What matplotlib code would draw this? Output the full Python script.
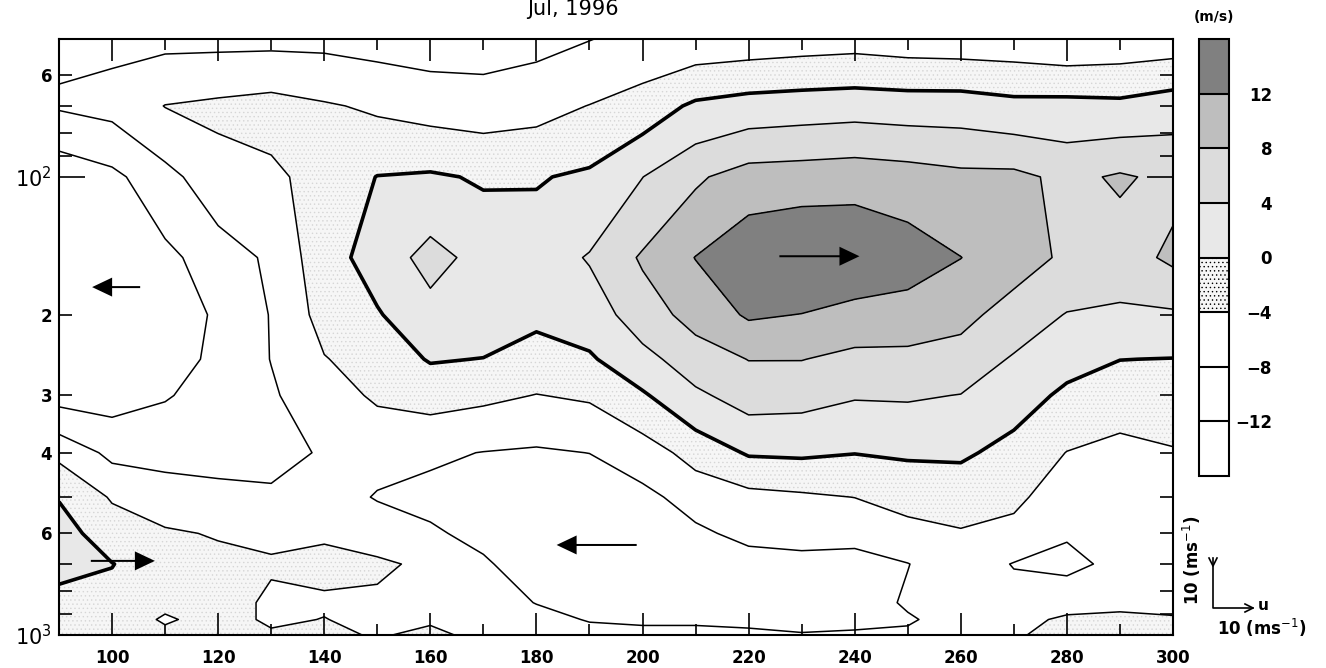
import matplotlib
matplotlib.use('Agg')
import matplotlib.pyplot as plt
import numpy as np
from matplotlib.lines import Line2D

# zonal wind section, Jul 1996 (m/s)
lons = [90, 100, 110, 120, 130, 140, 150, 160, 170, 180, 190,
        200, 210, 220, 230, 240, 250, 260, 270, 280, 290, 300]
plev = [50, 70, 100, 150, 200, 250, 300, 400, 500, 600, 700, 850, 925, 1000]

u_50 = [-8.7, -8.8, -9, -9, -9, -9, -9.5, -10, -10, -9.2, -8.1,
        -7, -6.5, -6.2, -5.8, -5.5, -6, -6.2, -6.3, -7, -6.5, -6.2]
u_70 = [-7.6, -6.8, -3.9, -3.2, -2.5, -3.6, -4.6, -5.5, -5.9, -5.3, -3.9,
        -2.2, 0.7, 1.7, 2.1, 2.4, 2.1, 2.1, 1.2, 1.3, 1.0, 2.3]
u_100 = [-15, -13, -9.3, -5.5, -4.8, -2.5, 0.1, 0.5, -0.4, -0.3, 0.7,
         3.95, 7.4, 9.8, 10.1, 10.5, 9.9, 9, 9, 7, 8.5, 7]
u_150 = [-16, -15, -13, -10, -7.3, -1.5, 1.5, 5.5, 2.5, 2, 4.3,
         8.5, 12.1, 15, 16, 15.5, 14, 12.05, 9.8, 7.3, 6.2, 8.8]
u_200 = [-16, -15, -14, -11.5, -7.8, -2.5, -0.3, 2.5, 2.5, 1, 2,
         6, 9.5, 12.5, 11.9, 10.5, 10.2, 9.2, 6.3, 3.8, 3.3, 3.4]
u_250 = [-15, -14.5, -14, -11, -7.9, -4.2, -2.2, 0.3, -0.1, -1.8, -0.5,
         2.8, 6, 8.1, 8.1, 7, 7, 6.3, 3.6, 1.2, 0.05, -0.1]
u_300 = [-13.5, -13.6, -12.3, -10.5, -8.5, -5.5, -3.5, -2.5, -3.2, -4.1, -3.5,
         -0.5, 3.3, 5.6, 5.3, 4.3, 4.4, 3.9, 1.6, -0.7, -2, -1.8]
u_400 = [-5, -9, -9.2, -9, -9, -7.7, -6.5, -7.4, -8.1, -8.5, -7.95,
         -6, -2.5, 0.4, 0.6, 0.1, 0.5, 0.6, -1.2, -4.1, -5.2, -4.3]
u_500 = [-0.2, -4.4, -6.3, -7.2, -7.5, -6, -8.3, -9, -10, -10.5, -11,
         -9, -6.5, -5.2, -4.6, -3.95, -2.6, -2.3, -3.4, -5.5, -6.5, -6]
u_600 = [1.5, -1.9, -3.5, -4.3, -5, -4.5, -5.5, -7.5, -9, -10.5, -11,
         -11, -8.7, -7, -6.8, -7.1, -5.3, -4.3, -4.8, -7.7, -7, -6.5]
u_700 = [0.8, 0.1, -2, -3, -3.5, -3, -3.5, -4.6, -7.5, -10, -11,
         -11.5, -10, -9.5, -9, -9, -8.1, -5.7, -8.2, -8.8, -7.2, -6.2]
u_850 = [-0.8, -1.0, -3, -2, -4.8, -4.5, -4.5, -5.5, -6.5, -8.1, -9.3,
         -10, -9.5, -9.8, -10, -10, -7.5, -6.5, -6.5, -6, -4.8, -4.6]
u_925 = [-1.5, -1.5, -4.5, -2.5, -4.6, -3.9, -5, -4.3, -6, -7, -8.2,
         -8.3, -8.3, -8.6, -9, -9, -8.4, -6.5, -5.5, -3.2, -3.3, -3.8]
u_1000 = [-1.5, -1.8, -3, -2.5, -3.5, -3.5, -4.2, -3.5, -4.6, -6.5, -7,
          -7.5, -7.5, -7.5, -7.8, -7.5, -7.4, -6, -4.5, -2.5, -2.5, -3]

bounds = [-40, -12, -8, -4, 0, 4, 8, 12, 40]
fill_colors = ['white', 'white', 'white', '#f6f6f6', '#e8e8e8', '#dcdcdc', '#bebebe', '#808080']
fill_hatches = [None, None, None, '....', None, None, None, None]
cbar_labels = ['\u221212', '\u22128', '\u22124', '0', '4', '8', '12']

# wind vectors (tail position, u in m/s)
vec_lon = [105.3, 225.8, 198.9, 96.0]
vec_p = [174, 149, 636, 689]
vec_u = [-12, 20, -20, 16]
vec_v = [0, 0, 0, 0]

plt.rcParams['font.family'] = 'DejaVu Sans'
plt.rcParams['hatch.color'] = '#d6d6d6'
plt.rcParams['hatch.linewidth'] = 0.5

W, H = 1326, 668
fx = lambda x: x / W
fy = lambda y: 1 - y / H

fig = plt.figure(figsize=(W / 100, H / 100), dpi=100)
ax = fig.add_axes([fx(59), fy(635), (1173 - 59) / W, (635 - 39) / H])

u = np.array([u_50, u_70, u_100, u_150, u_200, u_250, u_300,
              u_400, u_500, u_600, u_700, u_850, u_925, u_1000])

cf = ax.contourf(lons, plev, u, levels=bounds, colors=fill_colors, hatches=fill_hatches)
ax.contour(lons, plev, u, levels=[-12, -8, -4, 4, 8, 12], colors='k',
           linewidths=1.1, linestyles='solid')
ax.contour(lons, plev, u, levels=[0], colors='k', linewidths=2.6, linestyles='solid')

ax.set_yscale('log')
ax.set_ylim(1000, 50)
ax.set_xlim(90, 300)

ax.quiver(vec_lon, vec_p, vec_u, vec_v, angles='xy', scale_units='xy', scale=1.325,
          units='dots', width=2, headwidth=9.5, headlength=10, headaxislength=10,
          pivot='tail', color='k', zorder=5)

ax.set_xticks(range(100, 301, 20), labels=[str(v) for v in range(100, 301, 20)])
ax.set_xticks(range(110, 300, 20), minor=True)
ax.set_yticks([100, 1000], labels=[r'$10^2$', r'$10^3$'])
ax.set_yticks([60, 70, 80, 90, 200, 300, 400, 500, 600, 700, 800, 900],
              labels=['6', '', '', '', '2', '3', '4', '', '6', '', '', ''], minor=True)

ax.tick_params(which='both', direction='in', top=True, right=True, width=1.2)
ax.tick_params(axis='x', which='major', length=16, pad=10, labelsize=12)
ax.tick_params(axis='x', which='minor', length=8)
ax.tick_params(axis='y', which='major', length=19, pad=5, labelsize=15)
ax.tick_params(axis='y', which='minor', length=9.5, pad=5, labelsize=12)
for lab in ax.get_xticklabels() + ax.get_yticklabels(minor=True):
    lab.set_fontweight('bold')
for sp in ax.spines.values():
    sp.set_linewidth(1.5)

fig.text(fx(573), fy(15), 'Jul, 1996', ha='center', va='baseline', fontsize=15)

# colour bar
cax = fig.add_axes([fx(1199), fy(476), 30 / W, 437 / H])
cb = fig.colorbar(cf, cax=cax, ticks=bounds[1:-1], drawedges=True, spacing='uniform')
cb.set_ticklabels(cbar_labels)
cb.ax.tick_params(length=0, pad=31, labelsize=12)
for lab in cb.ax.get_yticklabels():
    lab.set_ha('right')
    lab.set_fontweight('bold')
cb.outline.set_linewidth(1.5)
cb.dividers.set_linewidth(1.5)
fig.text(fx(1214), fy(17), '(m/s)', ha='center', va='center', fontsize=10, fontweight='bold')

# vector key
key = dict(transform=fig.transFigure, color='k', lw=1.2)
fig.add_artist(Line2D([fx(1213), fx(1213), fx(1253)], [fy(558), fy(608), fy(608)], **key))
fig.add_artist(Line2D([fx(1245), fx(1253), fx(1245)], [fy(604), fy(608), fy(612)], **key))
fig.add_artist(Line2D([fx(1209), fx(1213), fx(1217)], [fy(558), fy(566), fy(558)], **key))
fig.text(fx(1258), fy(606), 'u', ha='left', va='center', fontsize=11, fontweight='bold')
fig.text(fx(1217), fy(628), r'10 (ms$^{-1}$)', ha='left', va='center', fontsize=12, fontweight='bold')
fig.text(fx(1192), fy(560), r'10 (ms$^{-1}$)', ha='center', va='center', rotation=90,
         fontsize=12, fontweight='bold')

fig.savefig('out.png', dpi=100)
